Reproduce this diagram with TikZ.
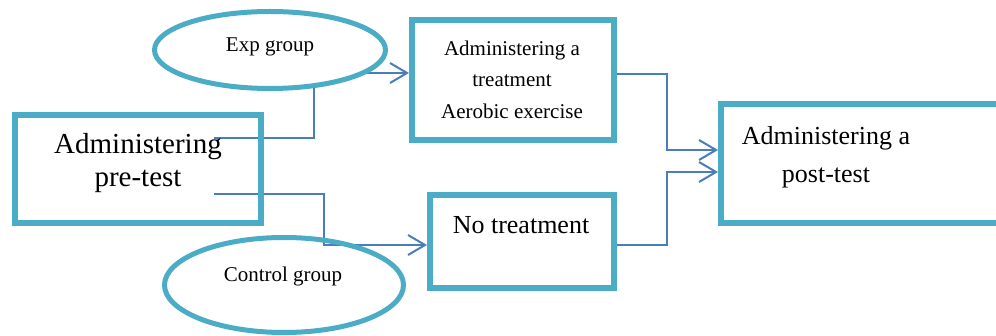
\documentclass[tikz,border=0pt]{standalone}
\usepackage{fontspec}
\setmainfont{Liberation Serif}
\usetikzlibrary{arrows.meta,backgrounds,shapes.geometric}
\definecolor{tealbox}{HTML}{4BACC6}
\definecolor{connblue}{HTML}{4A7EBB}
\tikzset{
  box/.style={draw=tealbox, line width=6pt, rectangle, inner sep=0pt},
  oval/.style={draw=tealbox, line width=5pt, ellipse, inner sep=0pt},
  conn/.style={draw=connblue, line width=2pt},
  arr/.style={conn, -{Straight Barb[length=17pt,width=20pt,line width=2pt]}},
  txt/.style={inner sep=0pt, align=center}
}
\begin{document}
\begin{tikzpicture}[x=1pt,y=-1pt]
\useasboundingbox (0,0) rectangle (996,336);
% shapes
\node[box, minimum width=246pt, minimum height=108pt] (pre) at (138,169) {};
\node[box, minimum width=202pt, minimum height=120pt] (treat) at (513,80) {};
\node[box, minimum width=184pt, minimum height=93pt] (nt) at (522,241.5) {};
\node[box, minimum width=290pt, minimum height=119pt] (post) at (866,163.5) {};
\node[oval, minimum width=231pt, minimum height=77pt] (exp) at (270,50) {};
\node[oval, minimum width=239pt, minimum height=95pt] (ctrl) at (284,285) {};
% texts
\node[txt, font=\fontsize{29}{33}\selectfont] (pretxt) at (138,162.8) {Administering\\pre-test};
\node[txt, font=\fontsize{21}{31.5}\selectfont] (treattxt) at (512,79.5) {Administering a\\treatment\\Aerobic exercise};
\node[txt, font=\fontsize{26}{31}\selectfont, anchor=base] (nttxt) at (521,234) {No treatment};
\node[txt, font=\fontsize{26}{38}\selectfont] (posttxt) at (826,156.9) {Administering a\\post-test};
\node[txt, font=\fontsize{21}{25}\selectfont, anchor=base] (exptxt) at (270,52) {Exp group};
\node[txt, font=\fontsize{21}{25}\selectfont, anchor=base] (ctrltxt) at (283,282) {Control group};
% connector points
\coordinate (s1) at (214,138);
\coordinate (e1) at (314,88);
\coordinate (s2) at (365,73);
\coordinate (treatin) at ([yshift=7pt]treat.west);
\coordinate (s3) at (214,194);
\coordinate (k3) at (324,0);
\coordinate (ntin) at ([yshift=-3.5pt]nt.west);
\coordinate (treatout) at ([yshift=6pt,xshift=-4pt]treat.east);
\coordinate (ntout) at ([yshift=-3.5pt,xshift=-4pt]nt.east);
\coordinate (m) at (667,0);
\coordinate (postin1) at ([yshift=13.5pt]post.west);
\coordinate (postin2) at ([yshift=-8.5pt]post.west);
\begin{scope}[on background layer]
\draw[conn] (s1) -| (e1);
\draw[arr] (s2) -- (s2 -| treatin);
\draw[arr] (s3) -| (k3 |- ntin) -- (ntin);
\draw[arr] (treatout) -| (m |- postin1) -- (postin1);
\draw[arr] (ntout) -| (m |- postin2) -- (postin2);
\end{scope}
\end{tikzpicture}
\end{document}
